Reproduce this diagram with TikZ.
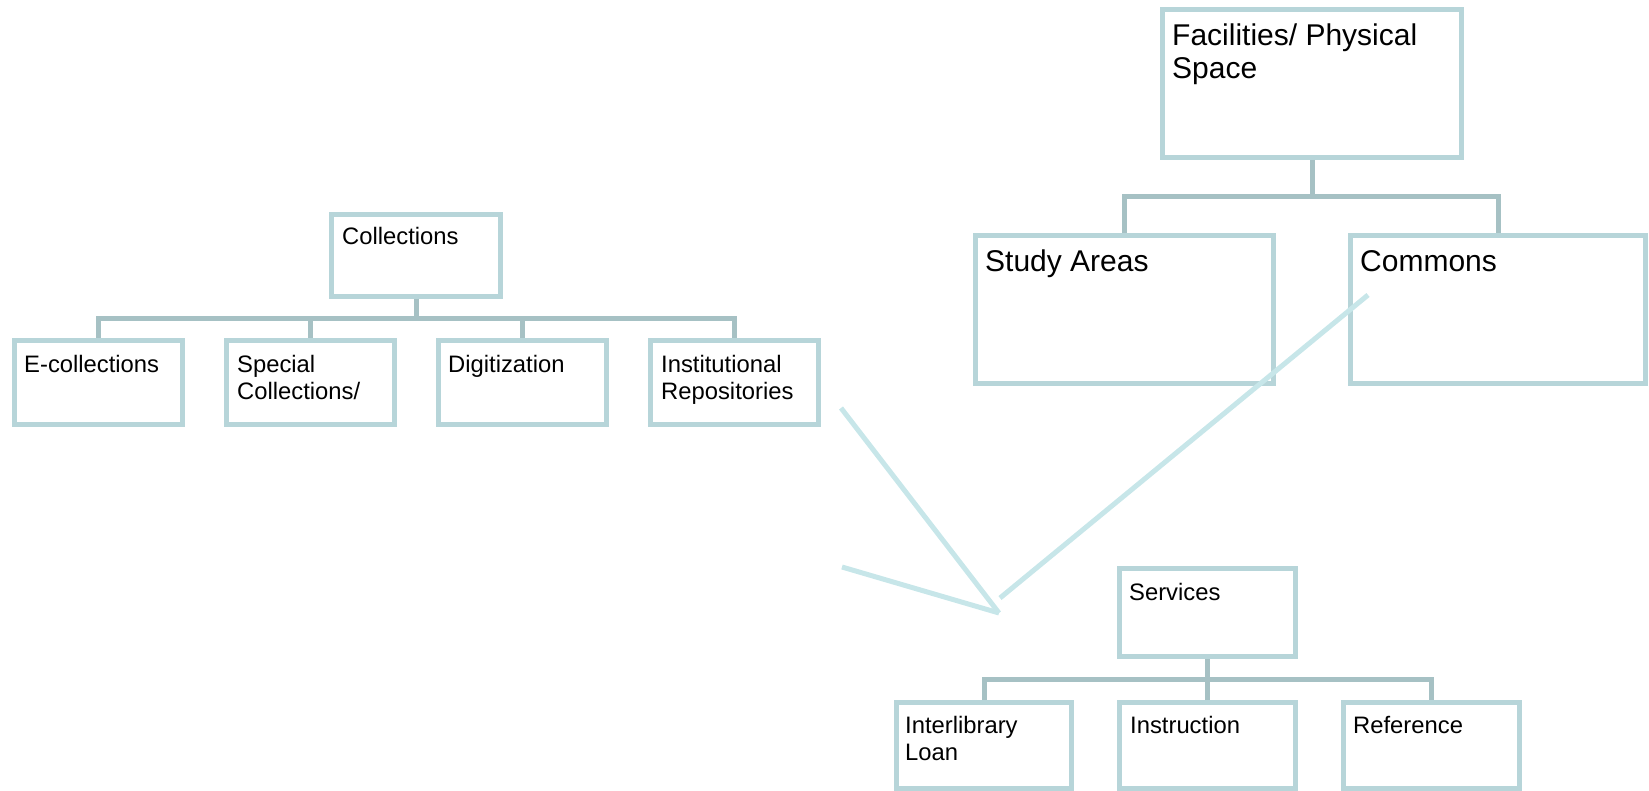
\documentclass[tikz,border=0pt]{standalone}
\usepackage{fontspec}
\setmainfont{Liberation Sans}
\usetikzlibrary{calc}
\definecolor{boxc}{HTML}{B7D5D9}
\definecolor{linkc}{HTML}{A6C1C4}
\definecolor{diagc}{HTML}{C7E6E9}
\newcommand\mytwolines[2]{\begin{tabular}[t]{@{}l@{}}#1\\#2\end{tabular}}
\begin{document}
\begin{tikzpicture}[x=1pt,y=-1pt,
  box/.style={draw=boxc, line width=5pt, fill=white, inner sep=0pt, rectangle},
  link/.style={draw=linkc, line width=5pt},
  diag/.style={draw=diagc, line width=5pt},
  small/.style={anchor=base west, inner sep=0pt, font=\fontsize{23.8}{27}\selectfont},
  big/.style={anchor=base west, inner sep=0pt, font=\fontsize{30}{32.5}\selectfont}]
\useasboundingbox (0,0) rectangle (1649,791);

% ---- Collections tree ----
\node[box, minimum width=169pt, minimum height=82pt] (coll) at (416,255.5) {};
\node[box, minimum width=168pt, minimum height=84pt] (ecoll) at (98,382.5) {};
\node[box, minimum width=168pt, minimum height=84pt] (spec) at (310,382.5) {};
\node[box, minimum width=168pt, minimum height=84pt] (digi) at (522,382.5) {};
\node[box, minimum width=168pt, minimum height=84pt] (inst) at (734,382.5) {};
\coordinate (cj) at (416,318.5);
\draw[link] (coll.south) -- (cj);
\draw[link] (ecoll.north) -- (ecoll.north |- cj) -- (inst.north |- cj) -- (inst.north);
\draw[link] (spec.north) -- (spec.north |- cj);
\draw[link] (digi.north) -- (digi.north |- cj);
\node[small] (tcoll) at (342,245) {Collections};
\node[small] (tecoll) at (24,373) {E-collections};
\node[small] (tspec) at (237,373) {\mytwolines{Special}{Collections/}};
\node[small] (tdigi) at (448,373) {Digitization};
\node[small] (tinst) at (661,373) {\mytwolines{Institutional}{Repositories}};

% ---- Facilities tree ----
\node[box, minimum width=299pt, minimum height=148pt] (fac) at (1312,83.5) {};
\node[box, minimum width=298pt, minimum height=148pt] (study) at (1124.5,309.5) {};
\node[box, minimum width=295pt, minimum height=148pt] (comm) at (1498,309.5) {};
\coordinate (fj) at (1312,197);
\draw[link] (fac.south) -- (fj);
\draw[link] (study.north) -- (study.north |- fj) -- (comm.north |- fj) -- (comm.north);
\node[big] (tfac) at (1172,46) {\mytwolines{Facilities/ Physical}{Space}};
\node[big] (tstudy) at (985,272) {Study Areas};
\node[big] (tcomm) at (1360,272) {Commons};

% ---- Services tree ----
\node[box, minimum width=176pt, minimum height=88pt] (serv) at (1207.5,612.5) {};
\node[box, minimum width=175pt, minimum height=86pt] (ill) at (984,745.5) {};
\node[box, minimum width=176pt, minimum height=86pt] (instr) at (1207.5,745.5) {};
\node[box, minimum width=176pt, minimum height=86pt] (ref) at (1431.5,745.5) {};
\coordinate (sj) at (1207.5,679);
\draw[link] (serv.south) -- (sj);
\draw[link] (ill.north) -- (ill.north |- sj) -- (ref.north |- sj) -- (ref.north);
\draw[link] (instr.north) -- (instr.north |- sj);
\node[small] (tserv) at (1129,600) {Services};
\node[small] (till) at (905,733) {\mytwolines{Interlibrary}{Loan}};
\node[small] (tinstr) at (1130,733) {Instruction};
\node[small] (tref) at (1353,733) {Reference};

% ---- free diagonal strokes ----
\coordinate (a1) at (841,408);
\coordinate (a2) at (842,567);
\coordinate (tip) at (999,613);
\coordinate (c1) at (1000,598);
\coordinate (c2) at (1368,295);
\draw[diag] (a1) -- (tip);
\draw[diag] (a2) -- (tip);
\draw[diag] (c1) -- (c2);
\end{tikzpicture}
\end{document}
